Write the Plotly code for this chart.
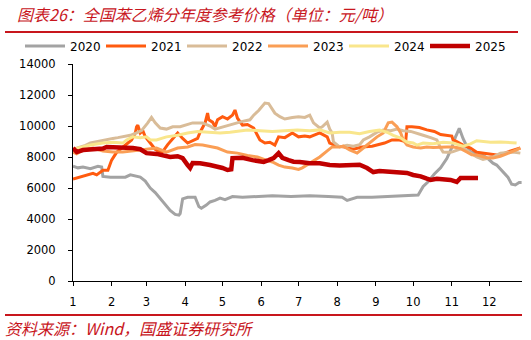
import pandas as pd
import plotly.graph_objects as go

# ---------------- data (day offset from 1 Jan, price yuan/ton) ----------------
years = ["2020", "2021", "2022", "2023", "2024", "2025"]

d2020 = [0, 4, 8, 14, 20, 23, 24, 30, 36, 42, 46, 50, 54, 58, 62, 66, 70, 74, 78, 82, 85, 86, 88, 92, 98, 101, 103, 107, 110, 114, 118, 122, 128, 136, 146, 160, 175, 190, 205, 216, 220, 224, 228, 240, 255, 268, 277, 281, 285, 290, 295, 300, 304, 307, 310, 313, 316, 319, 324, 329, 333, 337, 340, 345, 349, 352, 355, 358, 360]
v2020 = [7400, 7300, 7350, 7250, 7400, 7350, 6750, 6700, 6700, 6700, 6850, 6750, 6700, 6450, 6000, 5700, 5300, 4900, 4550, 4300, 4250, 4350, 5300, 5400, 5400, 4800, 4700, 4900, 5100, 5200, 5350, 5250, 5450, 5400, 5450, 5500, 5450, 5500, 5450, 5400, 5200, 5300, 5400, 5400, 5450, 5500, 5550, 6100, 6400, 6900, 7300, 7900, 8600, 9300, 9850, 9200, 8700, 8320, 8200, 8100, 7900, 7600, 7480, 7030, 6700, 6250, 6200, 6350, 6350]

d2021 = [0, 5, 10, 16, 19, 24, 28, 31, 35, 40, 44, 47, 50, 51, 52, 54, 56, 58, 62, 66, 70, 72, 76, 80, 84, 88, 92, 100, 102, 106, 108, 109, 112, 114, 116, 120, 124, 128, 130, 132, 136, 140, 145, 148, 150, 154, 158, 162, 165, 170, 176, 181, 186, 190, 198, 204, 206, 212, 218, 225, 232, 240, 250, 256, 262, 267, 268, 272, 278, 284, 290, 295, 300, 304, 305, 308, 313, 319, 324, 329, 332, 338, 343, 348, 352, 356, 359]
v2021 = [6580, 6700, 6800, 6950, 6850, 7150, 7150, 7800, 8300, 8650, 8900, 9100, 9550, 9950, 10050, 9550, 9700, 9300, 8900, 8500, 8300, 8350, 8800, 9200, 9550, 9200, 8900, 9200, 9600, 10200, 10830, 10400, 10250, 9950, 10400, 10600, 10450, 10700, 11030, 10500, 10060, 10100, 9870, 9400, 9100, 8900, 8950, 8770, 9300, 9250, 9550, 9300, 9350, 9300, 9550, 9300, 8900, 8700, 8650, 8500, 8650, 8700, 8900, 9100, 9100, 9000, 9950, 9950, 9900, 9750, 9650, 9450, 9400, 9350, 9100, 9000, 8770, 8580, 8300, 8250, 8200, 8130, 8100, 8300, 8400, 8500, 8580]

d2022 = [0, 5, 10, 14, 20, 24, 28, 32, 36, 40, 46, 51, 55, 60, 63, 66, 70, 75, 80, 86, 90, 96, 104, 110, 114, 120, 126, 130, 136, 142, 145, 149, 154, 157, 162, 166, 170, 176, 181, 186, 190, 193, 198, 200, 204, 206, 208, 209, 214, 220, 225, 230, 233, 238, 244, 249, 255, 260, 265, 271, 276, 281, 287, 292, 295, 297, 300, 303, 305, 310, 313, 318, 324, 329, 333, 337, 343, 348, 353, 359]
v2022 = [8500, 8600, 8750, 8900, 9000, 9100, 9150, 9200, 9250, 9300, 9400, 9550, 9700, 10200, 10550, 10200, 9870, 9800, 9950, 9950, 10050, 10200, 10200, 10000, 9800, 9950, 10100, 10200, 10300, 10400, 10700, 11000, 11480, 11450, 10830, 10600, 10450, 10550, 10600, 10550, 10700, 10200, 9870, 9950, 10250, 9800, 9550, 8970, 8650, 8750, 8700, 8800, 9100, 9300, 9600, 9740, 9700, 9800, 9700, 9650, 9500, 9400, 9250, 9100, 8580, 8320, 8300, 8300, 8350, 8500, 8580, 8300, 8000, 7850, 7950, 8000, 8250, 8300, 8320, 8250]

d2023 = [0, 3, 8, 16, 24, 32, 40, 51, 59, 67, 75, 84, 92, 98, 104, 112, 116, 124, 132, 140, 148, 155, 160, 165, 170, 176, 181, 184, 188, 193, 198, 204, 208, 214, 217, 222, 228, 233, 238, 244, 249, 253, 256, 260, 263, 265, 268, 273, 279, 284, 289, 295, 300, 305, 310, 316, 320, 324, 329, 332, 337, 343, 348, 352, 356, 359]
v2023 = [8320, 8200, 8450, 8580, 8380, 8320, 8320, 8450, 8500, 8580, 8320, 8580, 8650, 8800, 8770, 8650, 8580, 8320, 8250, 8100, 8000, 7800, 7680, 7480, 7350, 7290, 7200, 7300, 7500, 7700, 8000, 8400, 8650, 8650, 8700, 8450, 8250, 8580, 8900, 9300, 9550, 10200, 10250, 9950, 9550, 9100, 8770, 8650, 8580, 8650, 8620, 8650, 8650, 8650, 8580, 8320, 8150, 8130, 8000, 7950, 7930, 8050, 8200, 8350, 8500, 8580]

d2024 = [0, 5, 10, 14, 24, 32, 40, 43, 48, 54, 59, 62, 67, 75, 84, 92, 100, 110, 118, 126, 134, 140, 150, 160, 170, 180, 190, 198, 206, 214, 222, 230, 238, 246, 252, 257, 263, 268, 273, 276, 281, 289, 297, 305, 313, 319, 324, 329, 335, 343, 348, 356]
v2024 = [8500, 8600, 8700, 8770, 8900, 8950, 8900, 9100, 9300, 9250, 9300, 9100, 9100, 9300, 9400, 9550, 9650, 9600, 9550, 9600, 9700, 9740, 9700, 9650, 9700, 9740, 9700, 9750, 9550, 9600, 9600, 9500, 9650, 9740, 9600, 9400, 9220, 8970, 8900, 8770, 8900, 8850, 8950, 8900, 8700, 8850, 9050, 9000, 8950, 8970, 8950, 8900]

d2025 = [0, 3, 8, 14, 19, 24, 27, 32, 40, 48, 54, 59, 67, 72, 78, 84, 88, 92, 94, 96, 102, 110, 116, 120, 124, 127, 128, 136, 144, 149, 153, 157, 161, 165, 168, 173, 177, 182, 190, 198, 206, 214, 222, 230, 236, 241, 246, 252, 257, 263, 268, 273, 279, 284, 287, 292, 297, 303, 308, 311, 316, 320, 325]
v2025 = [8580, 8320, 8450, 8500, 8580, 8550, 8650, 8650, 8620, 8580, 8500, 8250, 8200, 8130, 8000, 8050, 7930, 7480, 7290, 7610, 7600, 7480, 7400, 7290, 7160, 7200, 7930, 7950, 7800, 7700, 7680, 7800, 7930, 8250, 7950, 7800, 7700, 7680, 7600, 7600, 7480, 7450, 7450, 7500, 7290, 7030, 7100, 7050, 7000, 6970, 6970, 6840, 6750, 6600, 6520, 6600, 6550, 6520, 6390, 6650, 6650, 6680, 6650]

month_labels = ["1", "2", "3", "4", "5", "6", "7", "8", "9", "10", "11", "12"]
y_ticks = [0, 2000, 4000, 6000, 8000, 10000, 12000, 14000]

series_days = [d2020, d2021, d2022, d2023, d2024, d2025]
series_vals = [v2020, v2021, v2022, v2023, v2024, v2025]

# ---------------- style ----------------
colors = ["#A3A3A3", "#FF5B0F", "#D9BC98", "#FA9E55", "#F9E68C", "#C00000"]
widths = [3, 3, 3, 3, 3, 4.5]
RED = "#C8161D"

W, H = 531, 340
L, R, T, B = 73, 522, 64, 281   # plot area in pixels


def px(xp):
    return (xp - L) / (R - L)


def py(yp):
    return (B - yp) / (B - T)


base = pd.Timestamp("2021-01-01")

fig = go.Figure()
for name, d, v, c, w in zip(years, series_days, series_vals, colors, widths):
    x = [base + pd.Timedelta(days=k) for k in d]
    fig.add_trace(go.Scatter(x=x, y=v, mode="lines", name=name,
                             line=dict(color=c, width=w)))

tickvals = [pd.Timestamp(2021, m, 1) for m in range(1, 13)]

fig.update_layout(
    width=W, height=H,
    margin=dict(l=L, r=W - R, t=T, b=H - B, autoexpand=False),
    paper_bgcolor="white", plot_bgcolor="white",
    font=dict(family="DejaVu Sans", size=11.5, color="#000000"),
    showlegend=True,
    legend=dict(orientation="h", xref="paper", yref="paper",
                x=px(20), y=py(46), xanchor="left", yanchor="middle",
                font=dict(size=12, family="DejaVu Sans", color="#000"),
                itemwidth=40, entrywidth=26, entrywidthmode="pixels",
                tracegroupgap=0, bgcolor="rgba(0,0,0,0)"),
    xaxis=dict(type="date",
               range=[pd.Timestamp("2021-01-01"), pd.Timestamp("2021-12-27 08:00")],
               tickvals=tickvals, ticktext=month_labels,
               showgrid=False, zeroline=False,
               showline=True, linecolor="#000", linewidth=1,
               ticks="outside", ticklen=4, tickcolor="#000",
               ticklabelstandoff=6,
               tickfont=dict(size=11.5)),
    yaxis=dict(range=[0, 14000], tickvals=y_ticks, tickformat="d",
               showgrid=False, zeroline=False,
               showline=True, linecolor="#000", linewidth=1,
               ticks="outside", ticklen=4, tickcolor="#000",
               ticklabelstandoff=10,
               tickfont=dict(size=11.5)),
)

# title, rules, source
fig.add_annotation(text="图表26：全国苯乙烯分年度参考价格（单位：元/吨）",
                   xref="paper", yref="paper", x=px(15), y=py(14),
                   xanchor="left", yanchor="middle", showarrow=False,
                   font=dict(family="Noto Sans CJK SC", size=16, color=RED, style="italic"))
fig.add_shape(type="line", xref="paper", yref="paper",
              x0=px(5), x1=px(518), y0=py(32), y1=py(32),
              line=dict(color=RED, width=2))
fig.add_shape(type="line", xref="paper", yref="paper",
              x0=px(5), x1=px(522), y0=py(315), y1=py(315),
              line=dict(color=RED, width=2))
fig.add_annotation(text="资料来源：Wind，国盛证券研究所",
                   xref="paper", yref="paper", x=px(3), y=py(328),
                   xanchor="left", yanchor="middle", showarrow=False,
                   font=dict(family="Noto Sans CJK SC", size=16, color=RED, style="italic"))

fig.write_html("out.html")
